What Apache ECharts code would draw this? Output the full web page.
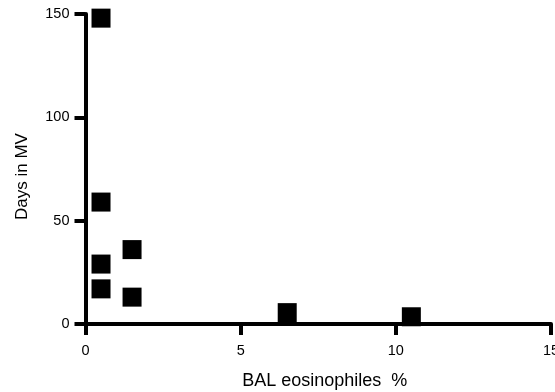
<!DOCTYPE html>
<html>
<head>
<meta charset="utf-8">
<script src="https://cdn.jsdelivr.net/npm/echarts@6/dist/echarts.min.js"></script>
<style>
  html, body { margin: 0; padding: 0; background: #fff; }
  #chart { width: 555px; height: 392px; }
</style>
</head>
<body>
<div id="chart"></div>
<script>
// BAL eosinophiles (%) vs days on mechanical ventilation
const eosinophiles = [0.5, 0.5, 0.5, 0.5, 1.5, 1.5, 6.5, 10.5]
const daysInMV = [148, 59, 29, 17, 36, 13, 5.5, 3.5]
const xTicks = [0, 5, 10, 15]
const yTicks = [0, 50, 100, 150]

const font = "'Liberation Sans', Arial, Helvetica, sans-serif"
const axisLine = { show: true, lineStyle: { color: "#000", width: 4 } }
const axisTick = { show: true, length: 11, lineStyle: { color: "#000", width: 4 } }

const chart = echarts.init(document.getElementById("chart"))
chart.setOption({
  backgroundColor: "#fff",
  animation: false,
  grid: { left: 85.5, right: 4, top: 14, bottom: 68, outerBoundsMode: "none" },
  xAxis: {
    type: "value",
    min: xTicks[0],
    max: xTicks[xTicks.length - 1],
    interval: 5,
    name: "BAL eosinophiles  %",
    nameLocation: "middle",
    nameGap: 48,
    nameTextStyle: { color: "#000", fontSize: 18, fontFamily: font, padding: [0, 0, 0, 13] },
    axisLine: axisLine,
    axisTick: axisTick,
    axisLabel: { color: "#000", fontSize: 14.5, fontFamily: font, margin: 19 },
    splitLine: { show: false }
  },
  yAxis: {
    type: "value",
    min: yTicks[0],
    max: yTicks[yTicks.length - 1],
    interval: 50,
    name: "Days in MV",
    nameLocation: "middle",
    nameGap: 55,
    nameRotate: 90,
    nameTextStyle: { color: "#000", fontSize: 17, fontFamily: font, padding: [0, 15, 0, 0] },
    axisLine: axisLine,
    axisTick: axisTick,
    axisLabel: { color: "#000", fontSize: 14.5, fontFamily: font, margin: 16 },
    splitLine: { show: false }
  },
  series: [
    {
      type: "scatter",
      symbol: "rect",
      symbolSize: 19,
      clip: false,
      itemStyle: { color: "#000", opacity: 1 },
      data: eosinophiles.map((x, i) => [x, daysInMV[i]])
    }
  ]
})
</script>
</body>
</html>
